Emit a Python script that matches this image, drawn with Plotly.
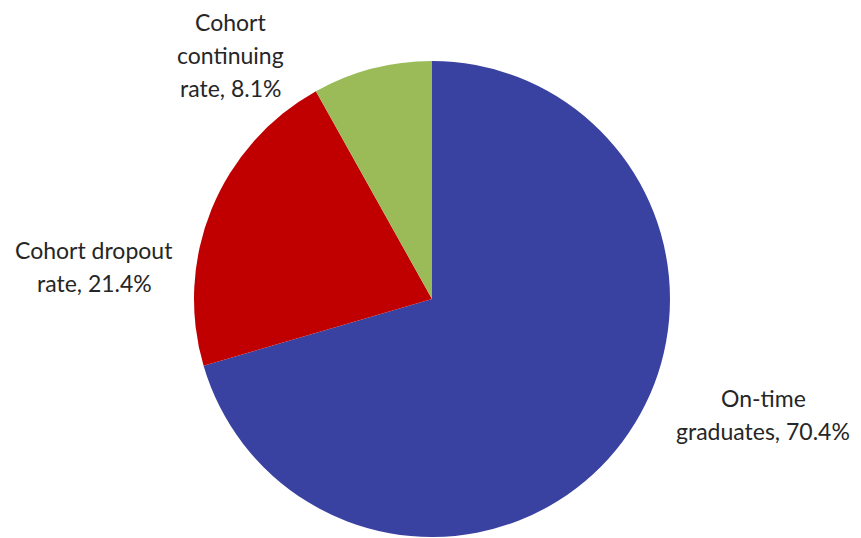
import plotly.graph_objects as go

categories = ["On-time graduates", "Cohort dropout rate", "Cohort continuing rate"]
values = [70.4, 21.4, 8.1]
colors = ["#3A42A1", "#C00000", "#9BBB59"]
label_lines = [["On-time", "graduates, 70.4%"], ["Cohort dropout", "rate, 21.4%"], ["Cohort", "continuing", "rate, 8.1%"]]

W, H = 861, 538
OFF = 8  # page body margin

def px2x(px):
    return (px - OFF) / W

def py2y(py):
    return 1 - (py - OFF) / H

fig = go.Figure(go.Pie(
    labels=categories,
    values=values,
    marker=dict(colors=colors, line=dict(width=0)),
    sort=False,
    direction="clockwise",
    rotation=0,
    textinfo="none",
    hoverinfo="label+percent",
    domain=dict(x=[px2x(194), px2x(670)], y=[py2y(537), py2y(61)]),
    showlegend=False,
))

# centre x and first-line centre y (pixels) for each label block
label_pos = [(763, 398), (94, 250), (231, 22)]
LINE = 33
for lines, (px, py) in zip(label_lines, label_pos):
    for i, ln in enumerate(lines):
        fig.add_annotation(
            x=px2x(px), y=py2y(py + i * LINE), xref="paper", yref="paper",
            text=ln, showarrow=False, align="center",
            xanchor="center", yanchor="middle",
            font=dict(family="Lato, Open Sans, sans-serif", size=23, color="#262626"),
        )

fig.update_layout(
    width=W, height=H,
    margin=dict(l=0, r=0, t=0, b=0),
    paper_bgcolor="white",
    plot_bgcolor="white",
)

fig.write_html("out.html")
